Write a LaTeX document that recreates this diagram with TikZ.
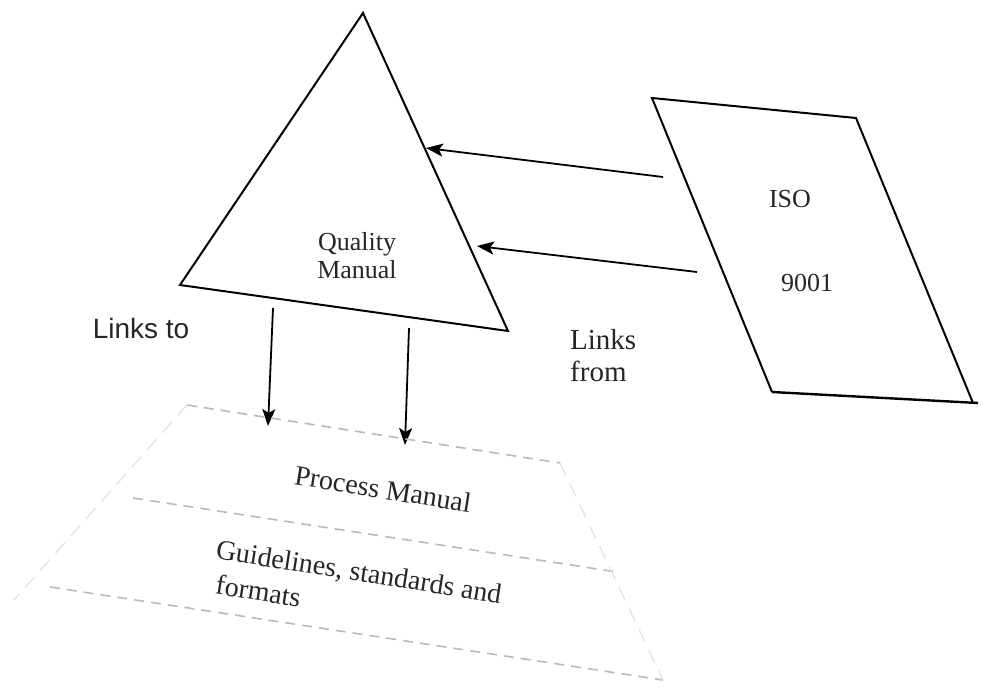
\documentclass[tikz,border=0pt]{standalone}
\usepackage{fontspec}
\setmainfont{Liberation Serif}
\newfontfamily\linksans{Liberation Sans}
\usetikzlibrary{arrows.meta}
\begin{document}
\begin{tikzpicture}[x=1pt,y=-1pt,
  outline/.style={line width=2pt, line join=miter},
  link/.style={line width=1.8pt, -{Stealth[length=17pt,width=13pt,inset=4pt]}},
  tier/.style={gray!55, line width=1.6pt, dash pattern=on 10pt off 7pt},
  faint/.style={gray!22, line width=1.4pt, dash pattern=on 14pt off 9pt},
  lbl/.style={font=\fontsize{26}{28}\selectfont, inner sep=0pt, text=black!85},
  tierlbl/.style={lbl, font=\fontsize{28}{30}\selectfont, rotate=-9},
]
\useasboundingbox (0,0) rectangle (985,693);

% Quality manual triangle
\coordinate (qm-apex) at (363,13);
\coordinate (qm-bl) at (180,285);
\coordinate (qm-br) at (508,331);
\draw[outline] (qm-apex) -- (qm-bl) -- (qm-br) -- cycle;
\node[lbl, align=center] (qm) at (357,256) {Quality\\Manual};

% ISO 9001 sheet
\coordinate (iso-tl) at (652,98);
\coordinate (iso-tr) at (856,118);
\coordinate (iso-br) at (973,403);
\coordinate (iso-bl) at (772,392);
\coordinate (iso-tail) at (978,403);
\draw[outline] (iso-bl) -- (iso-tl) -- (iso-tr) -- (iso-br);
\draw[outline, line width=2.4pt] (iso-bl) -- (iso-tail);
\node[lbl] (iso) at (790,199) {ISO};
\node[lbl] (num) at (807,283) {9001};

% links from the standard into the manual
\coordinate (from1) at (663,177);
\coordinate (to1) at (426,148);
\coordinate (from2) at (697,272);
\coordinate (to2) at (477,246);
\draw[link] (from1) -- (to1);
\draw[link] (from2) -- (to2);

% links from the manual down to the lower tiers
\coordinate (down1s) at (273,308);
\coordinate (down1e) at (268,426);
\coordinate (down2s) at (409,328);
\coordinate (down2e) at (405,445);
\draw[link] (down1s) -- (down1e);
\draw[link] (down2s) -- (down2e);

\node[lbl, font=\linksans\fontsize{28}{30}\selectfont] (linksto) at (141,328) {Links to};
\node[lbl, font=\fontsize{29}{32}\selectfont, align=left, anchor=north west] (linksfrom) at (570,329) {Links\\from};

% lower tiers
\coordinate (t1l) at (187,405);
\coordinate (t1r) at (560,463);
\coordinate (t2l) at (133,498);
\coordinate (t2r) at (617,572);
\coordinate (t3l) at (50,587);
\coordinate (t3r) at (663,680);
\coordinate (edge-l) at (14,600);
\draw[tier] (t1l) -- (t1r);
\draw[tier] (t2l) -- (t2r);
\draw[tier] (t3l) -- (t3r);
\draw[faint] (t1l) -- (edge-l);
\draw[faint] (t1r) -- (t3r);

\node[tierlbl] (process) at (383,489) {Process Manual};
\node[tierlbl, anchor=west] (guides) at (216,551) {Guidelines, standards and};
\node[tierlbl, anchor=west] (formats) at (216,584) {formats};
\end{tikzpicture}
\end{document}
